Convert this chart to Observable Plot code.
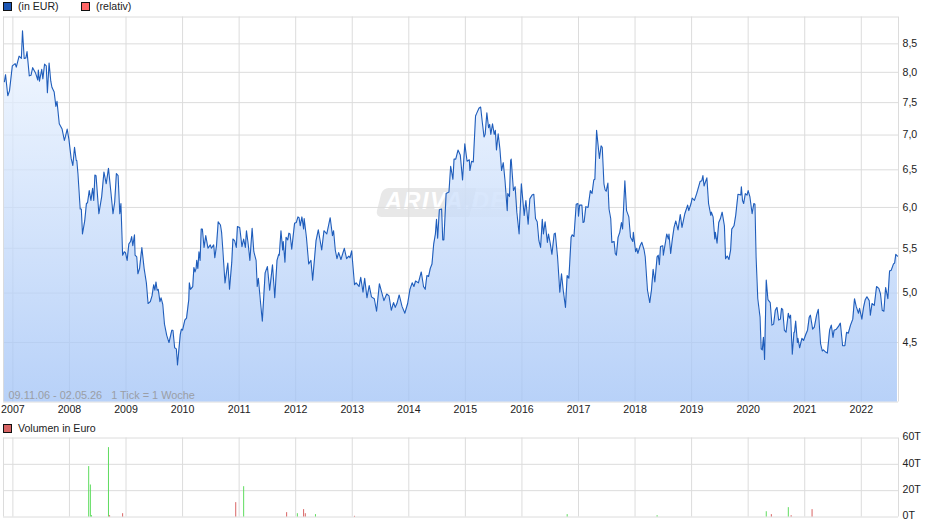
<!DOCTYPE html>
<html lang="de">
<head>
<meta charset="utf-8">
<script src="https://cdn.jsdelivr.net/npm/d3@7"></script>
<script src="https://cdn.jsdelivr.net/npm/@observablehq/plot@0.6"></script>
<style>
html,body{margin:0;padding:0;background:#fff;width:940px;height:526px;overflow:hidden;font-family:"Liberation Sans",Arial,sans-serif;}
#page{position:relative;width:940px;height:526px;}
.legend{position:absolute;font-size:10.6px;line-height:12px;color:#222;white-space:pre;}
.sw{position:absolute;width:7px;height:7px;border:1px solid #111;}
#main,#vol{position:absolute;left:0;}
#main{top:12px;}
#vol{top:430px;}
#mark{position:absolute;left:379px;top:188px;width:141px;height:29px;pointer-events:none;}
#mark .a{position:absolute;left:0;top:0;width:94px;height:29px;background:#e8e8e8;border-radius:6px 0 0 6px;transform:skewX(-14deg);}
#mark .b{position:absolute;left:94px;top:0;width:46px;height:29px;background:#f3f3f3;border-radius:0 6px 6px 0;transform:skewX(-14deg);}
#mark span{position:absolute;left:6px;top:0;font:italic bold 23.5px "Liberation Sans",Arial,sans-serif;letter-spacing:1.5px;color:#fff;white-space:pre;}
</style>
</head>
<body>
<div id="page">
  <div class="sw" style="left:3px;top:2px;background:#1c56b4"></div>
  <div class="legend" style="left:18px;top:0">(in EUR)</div>
  <div class="sw" style="left:81px;top:2px;background:#ff6666"></div>
  <div class="legend" style="left:96px;top:0">(relativ)</div>
  <div class="sw" style="left:3px;top:424px;background:#d76464"></div>
  <div class="legend" style="left:18px;top:422px">Volumen in Euro</div>
  <div id="mark"><div class="a"></div><div class="b"></div><span>ARIVA.DE</span></div>
  <div id="main"></div>
  <div id="vol"></div>
</div>
<script>
const yearTicks = [2007,2008,2009,2010,2011,2012,2013,2014,2015,2016,2017,2018,2019,2020,2021,2022];
const priceTicks = [4.5,5,5.5,6,6.5,7,7.5,8,8.5];
const volumeTicks = [0,20,40,60];
const rangeNote = "09.11.06 - 02.05.26   1 Tick = 1 Woche";

const priceYears = [
2006.85,2006.87,2006.91,2006.94,2006.99,2007.04,2007.06,2007.11,2007.15,2007.17,2007.20,2007.23,2007.25,2007.29,2007.32,2007.35,2007.40,2007.44,2007.45,2007.47,2007.51,2007.53,2007.56,2007.59,2007.61,2007.64,2007.67,2007.69,2007.73,2007.76,2007.78,2007.82,2007.87,2007.91,2007.93,2007.96,2007.99,2008.03,2008.06,2008.09,2008.12,2008.13,2008.15,2008.19,2008.21,2008.23,2008.27,2008.30,2008.32,2008.35,2008.38,2008.41,2008.43,2008.45,2008.47,2008.52,2008.57,2008.61,2008.65,2008.69,2008.73,2008.77,2008.80,2008.83,2008.86,2008.89,2008.91,2008.94,2008.97,2008.99,
2009.02,2009.05,2009.08,2009.10,2009.12,2009.15,2009.16,2009.19,2009.21,2009.24,2009.28,2009.32,2009.36,2009.39,2009.43,2009.46,2009.49,2009.51,2009.53,2009.55,2009.57,2009.60,2009.62,2009.65,2009.68,2009.72,2009.76,2009.81,2009.83,2009.86,2009.89,2009.91,2009.96,2009.98,2010.00,2010.04,2010.07,2010.11,2010.12,2010.14,2010.18,2010.20,2010.22,2010.24,2010.25,2010.27,2010.29,2010.31,2010.33,2010.35,2010.38,2010.41,2010.45,2010.49,2010.51,2010.55,2010.57,2010.60,2010.63,2010.67,2010.69,2010.71,2010.75,2010.80,2010.83,2010.87,2010.89,2010.92,2010.95,2010.97,
2011.01,2011.05,2011.08,2011.11,2011.13,2011.16,2011.19,2011.23,2011.26,2011.30,2011.32,2011.34,2011.38,2011.41,2011.46,2011.50,2011.54,2011.59,2011.63,2011.67,2011.70,2011.71,2011.74,2011.77,2011.78,2011.81,2011.83,2011.86,2011.88,2011.90,2011.93,2011.98,2012.01,2012.04,2012.06,
2012.08,2012.11,2012.14,2012.15,2012.19,2012.23,2012.27,2012.30,2012.36,2012.40,2012.46,2012.50,2012.55,2012.61,2012.65,2012.67,2012.70,2012.73,2012.76,2012.80,2012.86,2012.90,2012.94,2012.96,2012.99,2013.04,2013.07,2013.12,2013.15,2013.19,2013.22,2013.26,2013.30,2013.34,2013.39,2013.43,2013.48,2013.52,2013.56,2013.61,2013.65,2013.69,2013.73,2013.76,2013.79,2013.83,2013.88,2013.93,2013.98,
2014.02,2014.06,2014.09,2014.12,2014.17,2014.22,2014.26,2014.29,2014.32,2014.35,2014.38,2014.41,2014.44,2014.47,2014.49,2014.51,2014.54,2014.58,2014.60,2014.62,2014.66,2014.71,2014.74,2014.78,2014.80,2014.83,2014.87,2014.91,2014.95,2014.99,2015.03,2015.07,2015.08,2015.11,2015.14,2015.18,2015.20,2015.24,2015.27,2015.30,2015.33,2015.35,2015.38,2015.41,2015.43,2015.45,2015.48,2015.51,2015.53,2015.55,2015.58,2015.61,2015.64,2015.67,2015.70,2015.74,2015.75,2015.78,2015.80,2015.81,2015.85,2015.88,2015.91,2015.95,2015.99,
2016.04,2016.07,2016.11,2016.14,2016.18,2016.21,2016.24,2016.27,2016.30,2016.33,2016.36,2016.38,2016.41,2016.45,2016.47,2016.50,2016.53,2016.57,2016.59,2016.63,2016.67,2016.70,2016.73,2016.77,2016.80,2016.83,2016.87,2016.89,2016.92,2016.96,2016.99,2017.00,2017.02,2017.06,2017.08,2017.10,2017.13,2017.17,2017.21,2017.24,2017.27,2017.29,2017.32,2017.37,2017.40,2017.42,2017.45,2017.47,2017.49,2017.52,2017.54,2017.57,2017.59,2017.63,2017.65,2017.67,2017.70,2017.73,
2017.76,2017.78,2017.82,2017.85,2017.89,2017.92,2017.96,2017.97,2018.01,2018.03,2018.05,2018.09,2018.12,2018.16,2018.18,2018.22,2018.26,2018.29,2018.32,2018.35,2018.39,2018.41,2018.43,2018.45,2018.49,2018.50,2018.54,2018.56,2018.59,2018.60,2018.63,2018.66,2018.69,2018.72,2018.76,2018.80,2018.83,2018.88,2018.93,2018.95,2018.99,
2019.01,2019.05,2019.09,2019.15,2019.18,2019.20,2019.22,2019.27,2019.30,2019.34,2019.35,2019.38,2019.41,2019.42,2019.45,2019.48,2019.51,2019.54,2019.58,2019.60,2019.63,2019.66,2019.69,2019.71,2019.75,2019.78,2019.82,2019.87,2019.88,2019.90,2019.92,2019.95,2019.98,
2020.00,2020.03,2020.07,2020.10,2020.12,2020.14,2020.17,2020.21,2020.23,2020.25,2020.27,2020.29,2020.32,2020.35,2020.39,2020.42,2020.45,2020.48,2020.51,2020.54,2020.57,2020.59,2020.61,2020.64,2020.67,2020.71,2020.73,2020.75,2020.78,2020.81,2020.82,2020.84,2020.87,2020.88,2020.91,2020.95,2020.98,
2021.02,2021.05,2021.08,2021.10,2021.14,2021.17,2021.21,2021.24,2021.28,2021.31,2021.33,2021.37,2021.40,2021.44,2021.47,2021.50,2021.52,2021.56,2021.60,2021.63,2021.67,2021.71,2021.74,2021.77,2021.81,2021.85,2021.88,2021.91,2021.95,2021.97,
2022.01,2022.04,2022.07,2022.10,2022.14,2022.16,2022.19,2022.23,2022.27,2022.31,2022.34,2022.37,2022.40,2022.43,2022.47,2022.50,2022.53,2022.57,2022.59,2022.61,2022.64];

const priceValues = [
7.84,7.96,7.61,7.69,8.11,8.15,8.09,8.28,8.24,8.74,8.24,8.25,8.36,7.94,7.95,8.08,7.99,7.87,8.04,7.85,8.05,7.89,8.14,8.11,7.66,8.16,7.85,7.75,7.67,7.44,7.52,7.17,7.09,6.92,6.98,7.09,6.94,6.66,6.56,6.82,6.63,6.63,6.45,5.98,5.98,5.67,5.83,6.05,6.06,6.22,6.09,6.25,6.09,6.43,6.42,5.92,6.14,6.47,6.31,6.52,6.22,5.92,6.07,6.45,6.42,5.92,6.05,5.42,5.46,5.45,
5.36,5.55,5.58,5.64,5.53,5.66,5.42,5.40,5.21,5.27,5.51,5.27,5.11,4.89,4.91,4.97,5.09,5.03,5.12,5.03,5.04,4.91,4.95,4.88,4.68,4.57,4.50,4.62,4.62,4.45,4.44,4.29,4.58,4.63,4.62,4.72,4.74,4.93,5.11,5.04,5.07,5.28,5.23,5.27,5.36,5.27,5.46,5.36,5.73,5.73,5.51,5.65,5.50,5.54,5.50,5.54,5.39,5.53,5.82,5.78,5.69,5.50,5.11,5.33,5.04,5.34,5.61,5.59,5.51,5.76,
5.75,5.52,5.61,5.51,5.71,5.55,5.36,5.74,5.46,5.36,5.07,5.16,4.89,4.71,5.22,5.29,5.03,5.31,4.95,5.36,5.43,5.42,5.71,5.48,5.58,5.34,5.63,5.60,5.68,5.67,5.49,5.80,5.81,5.88,5.87,
5.77,5.88,5.73,5.86,5.63,5.32,5.36,5.14,5.59,5.72,5.48,5.71,5.67,5.87,5.65,5.71,5.48,5.38,5.45,5.37,5.50,5.38,5.41,5.39,5.47,5.09,5.11,5.07,5.17,5.01,5.16,4.95,5.08,4.96,4.94,4.81,5.10,5.01,4.92,4.99,4.97,4.82,4.90,4.85,4.89,4.98,4.86,4.79,4.89,
5.04,5.11,5.07,5.13,5.11,5.23,5.07,5.04,5.19,5.18,5.27,5.32,5.55,5.67,5.85,5.62,5.97,5.98,5.60,5.60,6.18,6.20,6.55,6.37,6.65,6.65,6.78,6.71,6.36,6.87,6.62,6.64,6.49,6.62,6.61,7.29,7.33,7.41,7.43,7.19,6.97,7.01,7.34,7.11,7.16,7.01,7.17,7.01,7.07,6.78,7.02,6.80,6.49,6.60,6.36,5.96,6.18,6.14,6.63,6.65,6.22,6.27,5.94,5.67,6.31,
5.90,6.09,5.79,6.11,6.16,6.17,5.86,5.82,5.59,5.51,5.85,5.67,5.82,5.57,5.67,5.56,5.43,5.67,5.68,5.40,5.01,5.21,5.03,4.85,5.19,5.16,5.63,5.66,5.64,6.04,6.05,5.89,6.03,6.03,5.81,5.82,6.01,6.00,6.22,6.18,6.36,6.37,7.07,6.66,6.84,6.82,6.31,6.23,6.21,6.32,5.98,5.86,5.57,5.58,5.44,5.42,5.63,5.69,
5.81,5.73,6.35,5.96,5.88,5.63,5.58,5.69,5.46,5.50,5.44,5.53,5.57,5.48,5.40,5.03,4.90,5.03,5.26,5.12,5.40,5.42,5.31,5.52,5.53,5.42,5.58,5.67,5.61,5.67,5.44,5.61,5.75,5.83,5.72,5.91,5.75,5.92,6.03,5.96,6.05,
6.12,6.09,6.18,6.34,6.35,6.42,6.28,6.39,6.05,5.90,5.94,5.88,5.61,5.69,5.56,5.81,5.86,5.94,5.77,5.38,5.41,5.37,5.48,5.73,5.77,5.90,6.17,6.16,6.27,6.09,6.05,6.18,6.16,
6.22,6.14,5.92,6.05,6.04,5.40,4.94,4.75,4.44,4.43,4.55,4.34,5.14,4.93,4.90,4.67,4.68,4.82,4.85,4.72,4.73,4.84,4.83,4.62,4.60,4.79,4.74,4.77,4.39,4.60,4.60,4.71,4.50,4.54,4.45,4.54,4.52,
4.58,4.62,4.75,4.77,4.63,4.65,4.77,4.83,4.49,4.42,4.43,4.41,4.40,4.62,4.67,4.55,4.62,4.63,4.66,4.69,4.47,4.47,4.60,4.59,4.67,4.73,4.94,4.86,4.79,4.84,
4.73,4.85,4.93,4.96,4.92,4.77,4.89,4.87,5.07,5.05,4.99,4.82,4.81,5.06,4.94,5.24,5.25,5.32,5.33,5.43,5.41];

const upVolumeYears  = [2008.34,2008.37,2008.39,2008.69,2011.08,2012.03,2012.35,2016.80,2018.39,2020.32,2020.71];
const upVolumes      = [38.3,24.3,1,52.7,23,2.5,1.8,1.8,1,4,7.1];
const downVolumeYears= [2008.71,2008.94,2010.94,2011.84,2012.14,2012.17,2013.04,2020.41,2020.76,2021.13];
const downVolumes    = [1,2.5,10.9,3.3,5.6,2.5,0.5,1.8,1,5.6];

const prices = priceYears.map((year,i)=>({year,price:priceValues[i]}));
const ups = upVolumeYears.map((year,i)=>({year,v:upVolumes[i]}));
const downs = downVolumeYears.map((year,i)=>({year,v:downVolumes[i]}));

const xDomain = [2006.834,2022.658];
const yBase = 3.965;
const gridStroke = "#dcdcdc";
const yearFmt = d3.format("d");
const commaFmt = v => v.toFixed(1).replace(".",",");
const font = '"Liberation Sans",Arial,sans-serif';

const gradDefs = () => {
  const defs = d3.create("svg:defs");
  const g = defs.append("linearGradient").attr("id","areaGrad").attr("x1",0).attr("y1",0).attr("x2",0).attr("y2",1);
  g.append("stop").attr("offset","0%").attr("stop-color","#eff6ff").attr("stop-opacity",0.75);
  g.append("stop").attr("offset","100%").attr("stop-color","#a0c2f6").attr("stop-opacity",0.75);
  return defs.node();
};

const main = Plot.plot({
  width:940,height:408,
  marginLeft:3,marginRight:42,marginTop:4.5,marginBottom:18.5,
  style:{fontFamily:font,fontSize:"10.6px",color:"#222",background:"transparent"},
  x:{type:"linear",domain:xDomain,label:null},
  y:{type:"log",domain:[yBase,9.0],label:null},
  marks:[
    gradDefs,
    Plot.gridX(yearTicks,{stroke:gridStroke,strokeOpacity:1,strokeWidth:1}),
    Plot.gridY(priceTicks,{stroke:gridStroke,strokeOpacity:1,strokeWidth:1}),
    Plot.ruleX([xDomain[0],xDomain[1]],{stroke:gridStroke}),
    Plot.ruleY([yBase,9.0],{stroke:gridStroke}),
    Plot.areaY(prices,{x:"year",y1:()=>yBase,y2:"price",fill:"url(#areaGrad)"}),
    Plot.line(prices,{x:"year",y:"price",stroke:"#1f5dbb",strokeWidth:1.1,curve:"linear"}),
    Plot.axisX({ticks:yearTicks,tickFormat:yearFmt,tickSize:0,tickPadding:3,label:null,fill:"#222"}),
    Plot.axisY({anchor:"right",ticks:priceTicks,tickFormat:commaFmt,tickSize:0,tickPadding:4,label:null,fill:"#222"}),
    Plot.text([rangeNote],{frameAnchor:"bottom-left",dx:5,dy:-3,fill:"#9a9ea6",fontSize:10.9})
  ]
});
document.getElementById("main").append(main);

const vol = Plot.plot({
  width:940,height:96,
  marginLeft:3,marginRight:42,marginTop:7.5,marginBottom:9.5,
  style:{fontFamily:font,fontSize:"10.6px",color:"#222",background:"transparent"},
  x:{type:"linear",domain:xDomain,label:null,axis:null},
  y:{domain:[0,60],label:null},
  marks:[
    Plot.gridX(yearTicks,{stroke:gridStroke,strokeOpacity:1}),
    Plot.gridY(volumeTicks,{stroke:gridStroke,strokeOpacity:1}),
    Plot.ruleX([xDomain[0],xDomain[1]],{stroke:gridStroke}),
    Plot.ruleX(ups,{x:"year",y1:0,y2:"v",stroke:"#5fdc5f",strokeWidth:1}),
    Plot.ruleX(downs,{x:"year",y1:0,y2:"v",stroke:"#d96464",strokeWidth:1}),
    Plot.axisY({anchor:"right",ticks:volumeTicks,tickFormat:v=>v+"T",tickSize:0,tickPadding:4,dy:-1,label:null,fill:"#222"})
  ]
});
document.getElementById("vol").append(vol);
</script>
</body>
</html>
